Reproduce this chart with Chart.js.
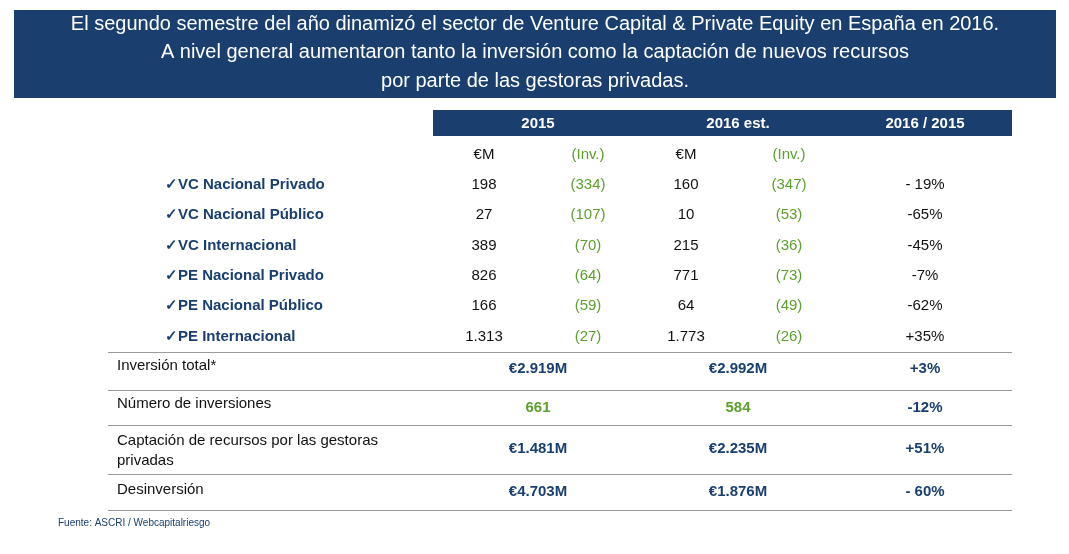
<!DOCTYPE html>
<html><head><meta charset="utf-8">
<script src="https://cdn.jsdelivr.net/npm/chart.js@4"></script>
<style>html,body{margin:0;padding:0;background:#fff}#c{display:block}</style>
</head><body>
<div style="width:1069px;height:554px"><canvas id="c" width="1069" height="554"></canvas></div>
<script>
const titleLines=["El segundo semestre del año dinamizó el sector de Venture Capital & Private Equity en España en 2016.","A nivel general aumentaron tanto la inversión como la captación de nuevos recursos","por parte de las gestoras privadas."];
const headers=["2015","2016 est.","2016 / 2015"];
const subHeaders=["€M","(Inv.)","€M","(Inv.)"];
const categories=["VC Nacional Privado","VC Nacional Público","VC Internacional","PE Nacional Privado","PE Nacional Público","PE Internacional"];
const eur2015=["198","27","389","826","166","1.313"];
const inv2015=["(334)","(107)","(70)","(64)","(59)","(27)"];
const eur2016=["160","10","215","771","64","1.773"];
const inv2016=["(347)","(53)","(36)","(73)","(49)","(26)"];
const change=["- 19%","-65%","-45%","-7%","-62%","+35%"];
const totLabels=[["Inversión total*"],["Número de inversiones"],["Captación de recursos por las gestoras","privadas"],["Desinversión"]];
const tot2015=["€2.919M","661","€1.481M","€4.703M"];
const tot2016=["€2.992M","584","€2.235M","€1.876M"];
const totChange=["+3%","-12%","+51%","- 60%"];
const source="Fuente: ASCRI / Webcapitalriesgo";

const NAVY="#1a3f6f",GREEN="#5b9f2d",F="Arial, 'Liberation Sans', sans-serif";
const L={colX:[484,588,686,789,925],hdrX:[538,738,925],rowY0:185,rowDY:30.3,totY:[369,408,449,492],totLabY:[[366],[404],[441,461],[490]],lines:[352,390,425,474,510]};

const tablePlugin={id:'table',afterDraw(ch){
 const c=ch.ctx,X=v=>ch.scales.x.getPixelForValue(v),Y=v=>ch.scales.y.getPixelForValue(v);
 c.save();
 const t=(s,x,y,font,col,al)=>{c.font=font;c.fillStyle=col;c.textAlign=al||'center';c.textBaseline='middle';c.fillText(s,X(x),Y(y));};
 c.fillStyle=NAVY;c.fillRect(X(14),Y(10),X(1056)-X(14),Y(98)-Y(10));
 titleLines.forEach((s,i)=>t(s,535,24+i*28.5,"20px "+F,"#fff"));
 c.fillStyle=NAVY;c.fillRect(X(433),Y(110),X(1012)-X(433),Y(136)-Y(110));
 headers.forEach((s,i)=>t(s,L.hdrX[i],124,"bold 15px "+F,"#fff"));
 subHeaders.forEach((s,i)=>t(s,L.colX[i],155,"15px "+F,i%2?GREEN:"#111"));
 categories.forEach((s,i)=>{const y=L.rowY0+i*L.rowDY;
  t("✓"+s,165,y,"bold 15px "+F,NAVY,'left');
  t(eur2015[i],L.colX[0],y,"15px "+F,"#111");t(inv2015[i],L.colX[1],y,"15px "+F,GREEN);
  t(eur2016[i],L.colX[2],y,"15px "+F,"#111");t(inv2016[i],L.colX[3],y,"15px "+F,GREEN);
  t(change[i],L.colX[4],y,"15px "+F,"#111");});
 c.strokeStyle="#9a9a9a";c.lineWidth=1;
 L.lines.forEach(y=>{c.beginPath();c.moveTo(X(108),Y(y)+.5);c.lineTo(X(1012),Y(y)+.5);c.stroke();});
 totLabels.forEach((ls,i)=>{ls.forEach((s,j)=>t(s,117,L.totLabY[i][j],"15px "+F,"#111",'left'));
  const col=i==1?GREEN:NAVY;
  t(tot2015[i],538,L.totY[i],"bold 15px "+F,col);t(tot2016[i],738,L.totY[i],"bold 15px "+F,col);
  t(totChange[i],925,L.totY[i],"bold 15px "+F,NAVY);});
 t(source,58,523,"10px "+F,NAVY,'left');
 c.restore();}};

new Chart(document.getElementById('c'),{type:'scatter',data:{datasets:[{data:[]}]},
 options:{responsive:false,animation:false,devicePixelRatio:1,layout:{padding:0},
  plugins:{legend:{display:false},tooltip:{enabled:false}},
  scales:{x:{type:'linear',min:0,max:1069,display:false},y:{type:'linear',min:0,max:554,reverse:true,display:false}}},
 plugins:[tablePlugin]});
</script></body></html>
